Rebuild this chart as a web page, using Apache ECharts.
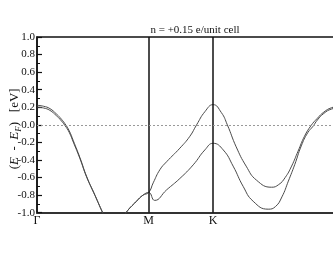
<!DOCTYPE html>
<html>
<head>
<meta charset="utf-8">
<script src="https://cdn.jsdelivr.net/npm/echarts@6/dist/echarts.min.js"></script>
<style>html,body{margin:0;padding:0;background:#fff}#c{width:333px;height:258px}</style>
</head>
<body>
<div id="c"></div>
<script>
// k-path positions (Γ-M : M-K : K-Γ = √3 : 1 : 2)
const kTicks = [0, 1.732, 2.732];
const kLabels = ['Γ', 'M', 'K'];
const kMax = 4.732;
const yTicks = [-1.0, -0.8, -0.6, -0.4, -0.2, 0.0, 0.2, 0.4, 0.6, 0.8, 1.0];

// band 1 (upper after M): [k, E]
const band1 = [
  [0, 0.222], [0.1, 0.212], [0.2, 0.185], [0.3, 0.125], [0.357, 0.083], [0.434, 0.012],
  [0.5, -0.068], [0.563, -0.18], [0.667, -0.375], [0.77, -0.588], [0.899, -0.80],
  [1.019, -1.0], [1.1, -1.12], [1.2, -1.16], [1.3, -1.1], [1.38, -1.0],
  [1.543, -0.87], [1.645, -0.80], [1.732, -0.77],
  [1.803, -0.66], [1.907, -0.51], [2.011, -0.42], [2.217, -0.265], [2.372, -0.13],
  [2.476, 0.0], [2.605, 0.15], [2.732, 0.23], [2.86, 0.14], [2.953, 0.0], [3.09, -0.25],
  [3.245, -0.47], [3.406, -0.63], [3.64, -0.71], [3.75, -0.68], [3.85, -0.60],
  [3.95, -0.47], [4.05, -0.30], [4.15, -0.13], [4.25, -0.01], [4.35, 0.075],
  [4.45, 0.145], [4.57, 0.195], [4.732, 0.22]
];
// band 2 (lower after M): [k, E]
const band2 = [
  [0, 0.202], [0.1, 0.192], [0.2, 0.165], [0.3, 0.105], [0.357, 0.063], [0.434, -0.008],
  [0.5, -0.086], [0.563, -0.196], [0.667, -0.386], [0.77, -0.594], [0.899, -0.803],
  [1.019, -1.0], [1.1, -1.12], [1.2, -1.16], [1.3, -1.1], [1.38, -1.0],
  [1.543, -0.87], [1.645, -0.80], [1.732, -0.77],
  [1.826, -0.86], [2.011, -0.74], [2.217, -0.61], [2.424, -0.455], [2.605, -0.285],
  [2.732, -0.21], [2.889, -0.285], [3.043, -0.47], [3.198, -0.70], [3.354, -0.87],
  [3.587, -0.96], [3.7, -0.93], [3.8, -0.82], [3.9, -0.64], [4.0, -0.45],
  [4.1, -0.24], [4.2, -0.09], [4.284, -0.015], [4.35, 0.055], [4.45, 0.13],
  [4.57, 0.18], [4.732, 0.202]
];
const title = 'n = +0.15 e/unit cell';

const serif = '"Liberation Serif", "DejaVu Serif", serif';
const chart = echarts.init(document.getElementById('c'), null, {renderer: 'canvas'});
const lineStyle = {color: '#4a4a4a', width: 1};
chart.setOption({
  animation: false,
  title: {
    text: title, left: 190, top: 20, textAlign: 'center',
    textStyle: {fontFamily: serif, fontSize: 11, fontWeight: 'normal', color: '#111'}
  },
  grid: {left: 37, top: 37, width: 305, height: 175.7, show: true,
         outerBoundsMode: 'none', containLabel: false,
         borderColor: '#111', borderWidth: 1.5, backgroundColor: 'transparent'},
  xAxis: {
    type: 'value', min: 0, max: kMax,
    axisLine: {show: true, onZero: false, lineStyle: {color: '#333', width: 2}},
    axisTick: {show: false},
    splitLine: {show: false},
    axisLabel: {
      customValues: kTicks,
      formatter: v => { const i = kTicks.findIndex(t => Math.abs(t - v) < 1e-6); return i >= 0 ? kLabels[i] : ''; },
      fontFamily: serif, fontSize: 12, color: '#111', margin: 2
    }
  },
  yAxis: {
    type: 'value', min: -1, max: 1, interval: 0.2,
    axisLine: {show: true, onZero: false, lineStyle: {color: '#111', width: 1.5}},
    axisTick: {show: true, inside: true, length: 5, lineStyle: {color: '#111', width: 1.2}},
    minorTick: {show: true, splitNumber: 2, length: 3, lineStyle: {color: '#111', width: 1}},
    splitLine: {show: false},
    axisLabel: {
      customValues: yTicks,
      formatter: v => v.toFixed(1),
      fontFamily: serif, fontSize: 11, color: '#111', margin: 2
    },
    name: '{p|(}{i|E}{p|  -  }{i|E}{s|F}{p|)   [eV]}',
    nameLocation: 'middle', nameRotate: 90, nameGap: 14, nameMoveOverlap: false,
    nameTextStyle: {
      fontFamily: serif, fontSize: 13, color: '#111', padding: [0, 8, 0, 0],
      rich: {
        p: {fontFamily: serif, fontSize: 13, color: '#111', lineHeight: 17, verticalAlign: 'middle'},
        i: {fontFamily: serif, fontSize: 13, fontStyle: 'italic', color: '#111', lineHeight: 17, verticalAlign: 'middle'},
        s: {fontFamily: serif, fontSize: 9, fontStyle: 'italic', color: '#111', lineHeight: 17, verticalAlign: 'bottom'}
      }
    }
  },
  series: [
    {
      type: 'line', data: band1, smooth: 0.5, showSymbol: false, clip: true,
      lineStyle: lineStyle,
      markLine: {
        silent: true, symbol: 'none', label: {show: false},
        data: [
          {xAxis: kTicks[1], lineStyle: {color: '#111', width: 1.5, type: 'solid'}},
          {xAxis: kTicks[2], lineStyle: {color: '#111', width: 1.5, type: 'solid'}},
          {yAxis: 0, lineStyle: {color: '#999', width: 1, type: [2, 2]}}
        ]
      }
    },
    {type: 'line', data: band2, smooth: 0.5, showSymbol: false, clip: true, lineStyle: lineStyle}
  ]
});
</script>
</body>
</html>
